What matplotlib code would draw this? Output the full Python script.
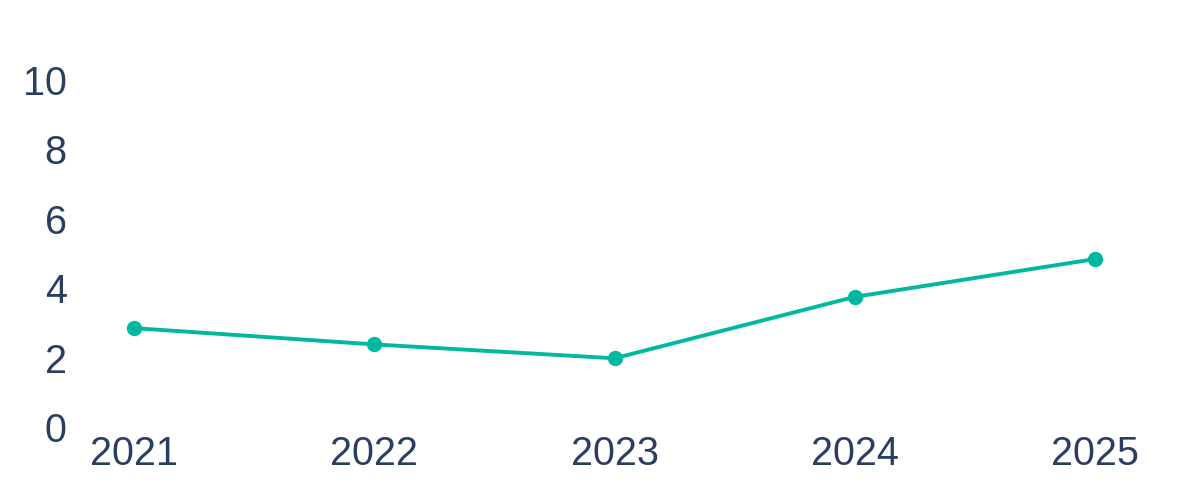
import matplotlib.pyplot as plt

# data
years = ["2021", "2022", "2023", "2024", "2025"]
values = [2.85, 2.38, 1.98, 3.75, 4.84]
y_ticks = [0, 2, 4, 6, 8, 10]

text_color = "#2a3f5f"
line_color = "#00b8a0"

plt.rcParams["font.family"] = ["Liberation Sans", "DejaVu Sans"]

fig = plt.figure(figsize=(12, 5), dpi=100)
ax = fig.add_axes([75 / 1200, 73 / 500, 1080 / 1200, 347 / 500])

x = list(range(len(years)))
ax.plot(x, values, color=line_color, linewidth=2.8, marker="o",
        markersize=10, clip_on=False)

ax.set_xlim(-0.246, 4.25)
ax.set_ylim(0, 10)
ax.set_xticks(x)
ax.set_xticklabels(years)
ax.set_yticks(y_ticks)

ax.tick_params(axis="both", length=0, labelsize=28.5, labelcolor=text_color)
ax.tick_params(axis="y", pad=6)
ax.tick_params(axis="x", pad=6)

for spine in ax.spines.values():
    spine.set_visible(False)

fig.savefig("out.png", dpi=100)
